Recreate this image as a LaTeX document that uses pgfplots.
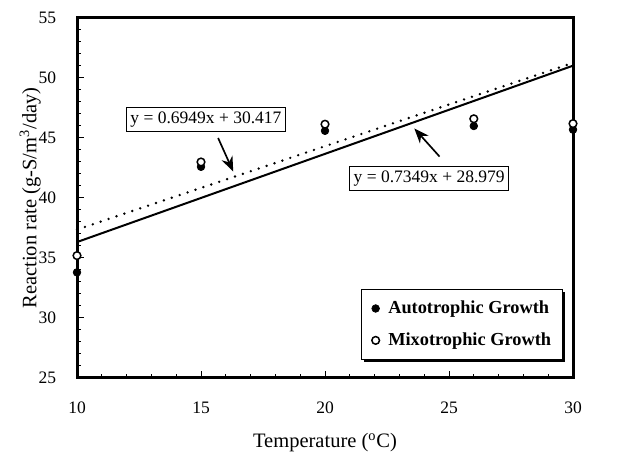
\documentclass[border=0pt]{standalone}
\usepackage{fontspec}
\setmainfont{Liberation Serif}
\usepackage{pgfplots}
\pgfplotsset{compat=1.18}
\usetikzlibrary{arrows.meta,shadows}

\begin{document}
\begin{tikzpicture}
\begin{axis}[
  width=297.6pt, height=216pt,
  scale only axis,
  xmin=10, xmax=30, ymin=25, ymax=55,
  xtick={10,15,20,25,30},
  ytick={25,30,...,55},
  minor x tick num=4,
  minor y tick num=4,
  tick pos=left,
  tick align=inside,
  major tick length=4pt,
  minor tick length=2.5pt,
  axis line style={line width=1.8pt},
  every tick/.style={black, line width=0.6pt},
  /pgf/number format/assume math mode=true,
  tick label style={font=\fontsize{10.5}{12}\selectfont},
  xticklabel style={yshift=-11pt},
  yticklabel style={xshift=-9pt},
  label style={font=\fontsize{12.3}{15}\selectfont},
  xlabel={Temperature (\textsuperscript{o}C)},
  ylabel={Reaction rate (g-S/m\textsuperscript{3}/day)},
  xlabel style={at={(axis description cs:0.5,0)}, anchor=center, yshift=-39pt},
  ylabel style={at={(axis description cs:0,0.5)}, anchor=center, yshift=28pt},
  clip=false,
  legend style={at={(0.98,0.05)}, anchor=south east,
    font=\fontsize{11}{13}\selectfont\bfseries,
    draw=black, line width=0.4pt, fill=white,
    drop shadow={shadow xshift=1.6pt, shadow yshift=-1.6pt, fill=black, opacity=1},
    row sep=6pt, inner sep=5pt},
  legend cell align=left,
  legend image code/.code={\draw[#1] plot coordinates {(0.12cm,0cm)}; \path (0cm,0cm) (0.3cm,0cm);},
]
% trend lines (Excel fits)
\addplot[black, line width=1.2pt, forget plot] coordinates {(10,36.328) (30,51.026)};
\addplot[black, line width=1.6pt, line cap=round, dash pattern=on 0pt off 5pt, forget plot] coordinates {(10,37.366) (30,51.264)};

\addplot[only marks, mark=*, mark size=2.3pt, black] coordinates {
  (10,33.8) (15,42.6) (20,45.6) (26,46.0) (30,45.7)};
\addlegendentry{Autotrophic Growth}
\addplot[only marks, mark=*, mark size=2.3pt, draw=black, fill=white, line width=0.9pt] coordinates {
  (10,35.2) (15,43.0) (20,46.15) (26,46.6) (30,46.2)};
\addlegendentry{Mixotrophic Growth}

\node[draw=black, line width=0.4pt, fill=white, inner sep=2.5pt, font=\fontsize{10.5}{12}\selectfont]
  at (axis cs:15.2,46.55) {y = 0.6949x + 30.417};
\node[draw=black, line width=0.4pt, fill=white, inner sep=2.5pt, font=\fontsize{10.5}{12}\selectfont]
  at (axis cs:24.2,41.65) {y = 0.7349x + 28.979};
\draw[-{Stealth[length=9pt,width=7pt]}, line width=1pt] (axis cs:15.69,45.0) -- (axis cs:16.3,42.2);
\draw[-{Stealth[length=9pt,width=7pt]}, line width=1pt] (axis cs:24.62,43.45) -- (axis cs:23.6,45.8);
\end{axis}
\pgfresetboundingbox
\path ([shift={(-46.2pt,-47.4pt)}]current axis.south west) rectangle ([shift={(32.4pt,10.8pt)}]current axis.north east);
\end{tikzpicture}
\end{document}
